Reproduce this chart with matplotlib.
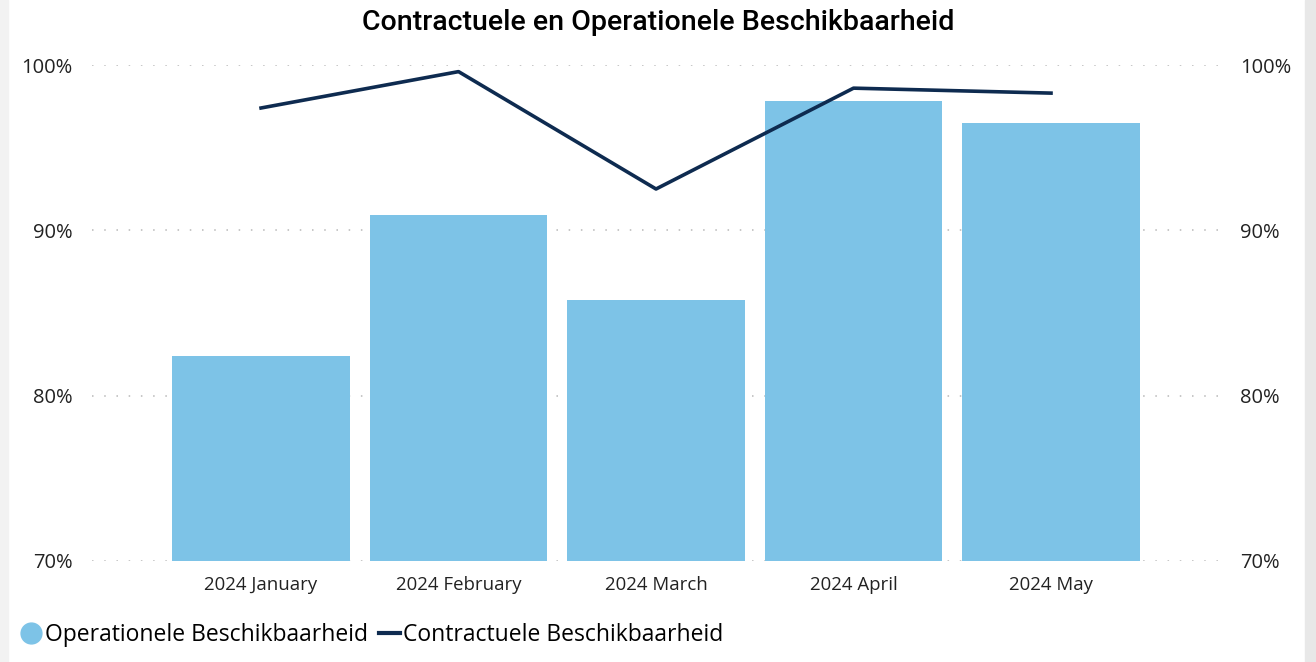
import numpy as np
import matplotlib.pyplot as plt
from matplotlib.lines import Line2D
from matplotlib.patches import Rectangle

maanden = ["2024 January", "2024 February", "2024 March", "2024 April", "2024 May"]
operationeel = [82.4, 90.9, 85.8, 97.8, 96.5]
contractueel = [97.4, 99.6, 92.5, 98.6, 98.3]
yticks = [70, 80, 90, 100]

bar_kleur = "#7DC3E7"
lijn_kleur = "#0E2B50"

plt.rcParams['font.family'] = ['Open Sans', 'DejaVu Sans']

fig = plt.figure(figsize=(13.16, 6.62), dpi=100)
# grijze randen links en rechts
fig.patches.append(Rectangle((0, 0), 0.006, 1, transform=fig.transFigure, color="#f2f2f2", zorder=0))
fig.patches.append(Rectangle((0.992, 0), 0.008, 1, transform=fig.transFigure, color="#e8e8e8", zorder=0))

ax = fig.add_axes([0.0699, 0.1526, 0.8587, 0.7492])
x = np.arange(len(maanden))
ax.bar(x, operationeel, width=0.9, color=bar_kleur, zorder=2)
ax.plot(x, contractueel, color=lijn_kleur, linewidth=2.6, zorder=3)

ax.set_ylim(70, 100)
ax.set_xlim(-0.856, 4.866)
ax.set_yticks(yticks)
ax.set_yticklabels([f"{v}%" for v in yticks])
ax.set_xticks(x)
ax.set_xticklabels(maanden)
ax.grid(axis='y', linestyle=(0, (1, 7)), color="#b8b8b8", linewidth=1.1, zorder=0)
for s in ax.spines.values():
    s.set_visible(False)
ax.tick_params(axis='both', length=0, colors="#222222")
ax.tick_params(axis='y', pad=14, labelsize=14.5)
ax.tick_params(axis='x', pad=11, labelsize=13.4)

ax2 = ax.twinx()
ax2.set_ylim(70, 100)
ax2.set_yticks(yticks)
ax2.set_yticklabels([f"{v}%" for v in yticks])
for s in ax2.spines.values():
    s.set_visible(False)
ax2.tick_params(axis='y', length=0, pad=13, labelsize=14.5, colors="#222222")

fig.suptitle("Contractuele en Operationele Beschikbaarheid", x=0.5, y=0.987,
             fontsize=20.5, fontweight='medium', family=['Roboto', 'DejaVu Sans'])

handles = [
    Line2D([], [], marker='o', linestyle='none', markersize=15, color=bar_kleur),
    Line2D([], [], color=lijn_kleur, linewidth=3),
]
fig.legend(handles, ["Operationele Beschikbaarheid", "Contractuele Beschikbaarheid"],
           loc='lower left', bbox_to_anchor=(0.0, -0.009), ncol=2, frameon=False,
           fontsize=16.5, handlelength=0.9, handletextpad=0.15, columnspacing=0.5)

fig.savefig("out.png", dpi=100, facecolor="white")
